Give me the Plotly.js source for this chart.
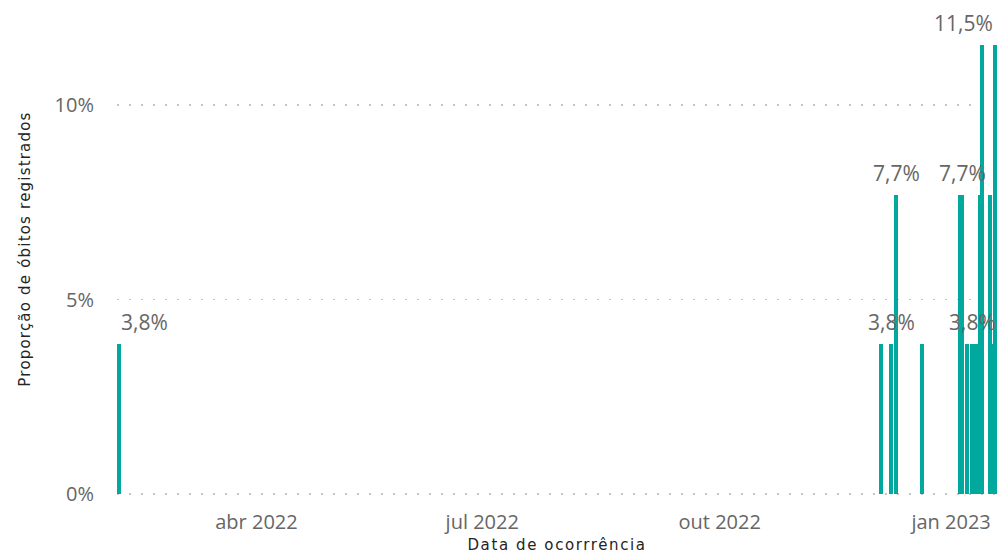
<!DOCTYPE html>
<html>
<head>
<meta charset="utf-8">
<script src="https://cdn.plot.ly/plotly-3.0.1.min.js"></script>
<style>
  html, body { margin: 0; padding: 0; background: #ffffff; }
  #chart { width: 998px; height: 554px; }
  #chart .xtitle { letter-spacing: 1.6px; }
  #chart .ytitle { letter-spacing: 1.2px; }
</style>
</head>
<body>
<div id="chart"></div>
<script>
// ---- data ----
const dates = ['2022-02-22', '2022-12-20', '2022-12-24', '2022-12-26', '2023-01-05',
               '2023-01-20', '2023-01-21', '2023-01-23', '2023-01-25', '2023-01-26',
               '2023-01-27', '2023-01-28', '2023-01-29', '2023-02-01', '2023-02-02',
               '2023-02-03'];
const shares = [0.03846, 0.03846, 0.03846, 0.07692, 0.03846,
                0.07692, 0.07692, 0.03846, 0.03846, 0.03846,
                0.03846, 0.07692, 0.11538, 0.07692, 0.03846,
                0.11538];
const labelDates = ['2022-02-22', '2022-12-24', '2022-12-26', '2023-01-21', '2023-01-25', '2023-02-03'];
const tickDates = ['2022-04-01', '2022-07-01', '2022-10-01', '2023-01-01'];
const tickLabels = ['abr 2022', 'jul 2022', 'out 2022', 'jan 2023'];
const yTitle = 'Proporção de óbitos registrados';
const xTitle = 'Data de ocorrrência';

const DAY = 86400000;
const fmt = v => (v * 100).toFixed(1).replace('.', ',') + '%';

const bars = {
  type: 'bar',
  x: dates,
  y: shares,
  width: dates.map(() => 1.6 * DAY),
  marker: { color: '#01A89E', line: { width: 0 } },
  hoverinfo: 'x+y',
  showlegend: false
};

const annotations = labelDates.map((d, i) => {
  const v = shares[dates.indexOf(d)];
  let anchor = 'center';
  if (i === 0) anchor = 'left';
  if (i === labelDates.length - 1) anchor = 'right';
  return {
    x: d, y: v, xref: 'x', yref: 'y',
    text: fmt(v), showarrow: false,
    xanchor: anchor, yanchor: 'bottom', yshift: 6,
    font: { family: 'Open Sans, sans-serif', size: 21, color: '#666666' }
  };
});

const first = new Date(dates[0]).getTime();
const last = new Date(dates[dates.length - 1]).getTime();

const layout = {
  width: 998, height: 554,
  margin: { l: 117, r: 1, t: 0, b: 56 },
  paper_bgcolor: '#ffffff', plot_bgcolor: '#ffffff',
  bargap: 0,
  xaxis: {
    type: 'date',
    range: [new Date(first - 0.8 * DAY).toISOString(), new Date(last + 0.8 * DAY).toISOString()],
    tickvals: tickDates, ticktext: tickLabels,
    ticklabelposition: 'outside right',
    ticks: '', ticklabelstandoff: 10,
    showgrid: false, zeroline: false, showline: false,
    tickfont: { family: 'Open Sans, sans-serif', size: 20, color: '#666666' },
    title: { text: xTitle, standoff: 9, font: { family: 'DejaVu Sans, sans-serif', size: 15, color: '#252423' } },
    automargin: false
  },
  yaxis: {
    range: [-0.001, 0.127],
    dtick: 0.05, tick0: 0,
    tickformat: '.0%',
    ticks: 'outside', ticklen: 18, tickcolor: 'rgba(0,0,0,0)',
    showgrid: true, gridcolor: '#c4c4c4', gridwidth: 1.5, griddash: '2px,10px',
    zeroline: false, showline: false,
    tickfont: { family: 'Open Sans, sans-serif', size: 20, color: '#666666' },
    title: { text: yTitle, standoff: 20, font: { family: 'DejaVu Sans, sans-serif', size: 15, color: '#252423' } },
    automargin: false
  },
  annotations: annotations
};

Plotly.newPlot('chart', [bars], layout, { displayModeBar: false, staticPlot: true });
</script>
</body>
</html>
